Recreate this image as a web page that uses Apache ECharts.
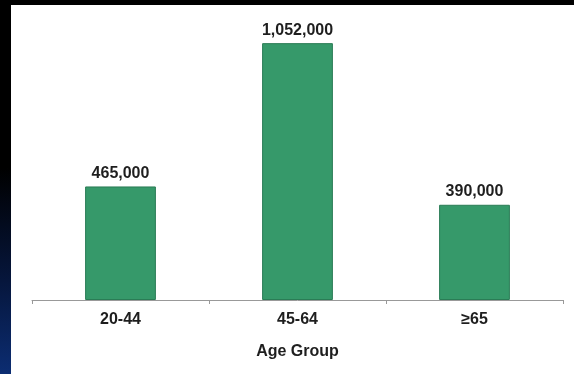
<!DOCTYPE html>
<html>
<head>
<meta charset="utf-8">
<script src="https://cdn.jsdelivr.net/npm/echarts@6/dist/echarts.min.js"></script>
<style>
  html, body { margin: 0; padding: 0; }
  body {
    width: 574px; height: 374px; position: relative; overflow: hidden;
    background: #000;
  }
  #band {
    position: absolute; left: 0; top: 0; width: 11px; height: 374px;
    background: linear-gradient(to bottom, #000 0%, #000 45%, #06163c 75%, #0c2d72 100%);
  }
  #chart {
    position: absolute; left: 11px; top: 5px; width: 563px; height: 369px;
    background: #fff;
  }
</style>
</head>
<body>
<div id="band"></div>
<div id="chart"></div>
<script>
// Persons by age group
const categories = ['20-44', '45-64', '\u226565'];
const values = [465000, 1052000, 390000];
const axisTitle = 'Age Group';

const chart = echarts.init(document.getElementById('chart'));
const fmt = v => v.toLocaleString('en-US');
const font = { fontFamily: 'Liberation Sans', fontWeight: 'bold', fontSize: 16, color: '#1e1e1e' };

chart.setOption({
  backgroundColor: '#ffffff',
  animation: false,
  grid: { left: 21, right: 11, top: 2, bottom: 74 },
  xAxis: {
    type: 'category',
    data: categories,
    name: axisTitle,
    nameLocation: 'middle',
    nameGap: 44,
    nameTextStyle: Object.assign({}, font),
    axisLine: { lineStyle: { color: '#999', width: 1 } },
    axisTick: { show: true, length: 4, lineStyle: { color: '#999' } },
    axisLabel: Object.assign({ margin: 12 }, font)
  },
  yAxis: {
    type: 'value', min: 0, max: 1200000, show: false,
    splitLine: { show: false }
  },
  series: [{
    type: 'bar',
    data: values,
    barWidth: '40%',
    itemStyle: { color: '#36996a', borderColor: '#2a7c55', borderWidth: 1 },
    label: Object.assign({
      show: true, position: 'top', distance: 5,
      formatter: p => fmt(p.value)
    }, font, { fontSize: 16 })
  }]
});
</script>
</body>
</html>
